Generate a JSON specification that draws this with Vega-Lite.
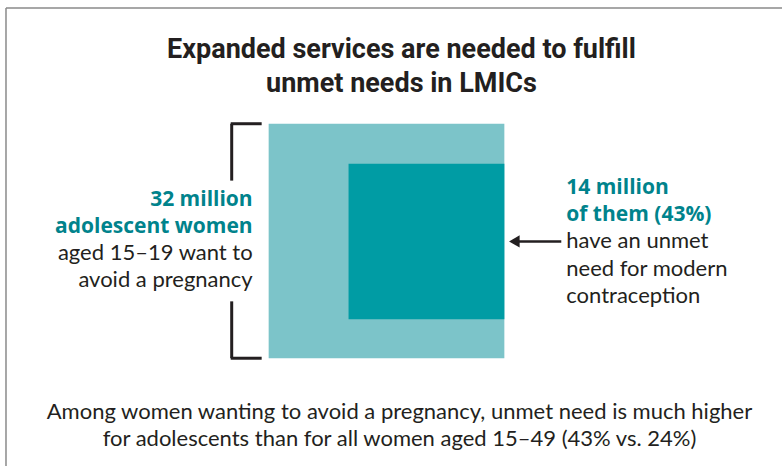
{
  "$schema": "https://vega.github.io/schema/vega-lite/v6.json",
  "autosize": {"type": "fit", "contains": "padding"},
  "width": 783,
  "height": 467,
  "padding": 0,
  "background": "white",
  "config": {"view": {"stroke": null}},
  "datasets": {
    "border": [
      {"x": 6, "y": 8, "x2": 6, "y2": 467},
      {"x": 6, "y": 8, "x2": 783, "y2": 8}
    ],
    "boxes": [
      {"group": "Adolescent women wanting to avoid a pregnancy (32 million)", "x": 269, "x2": 505, "y": 124, "y2": 359},
      {"group": "With unmet need for modern contraception (14 million)", "x": 349, "x2": 505, "y": 164, "y2": 320}
    ],
    "bracket": [
      {"x": 232, "y": 124, "x2": 232, "y2": 181},
      {"x": 232, "y": 302, "x2": 232, "y2": 359},
      {"x": 231, "y": 124, "x2": 262, "y2": 124},
      {"x": 231, "y": 359, "x2": 262, "y2": 359}
    ],
    "arrow": [{"x": 516, "x2": 562, "y": 242, "y2": 242}],
    "head": [{"x": 515, "y": 242}],
    "title": [
      {"text": "Expanded services are needed to fulfill", "x": 402, "y": 50},
      {"text": "unmet needs in LMICs", "x": 402, "y": 84}
    ],
    "leftBold": [
      {"text": "32 million", "x": 253, "y": 200},
      {"text": "adolescent women", "x": 253, "y": 227}
    ],
    "leftReg": [
      {"text": "aged 15–19 want to", "x": 253, "y": 254},
      {"text": "avoid a pregnancy", "x": 253, "y": 281}
    ],
    "rightBold": [
      {"text": "14 million", "x": 567, "y": 188},
      {"text": "of them (43%)", "x": 567, "y": 215}
    ],
    "rightReg": [
      {"text": "have an unmet", "x": 567, "y": 242},
      {"text": "need for modern", "x": 567, "y": 270},
      {"text": "contraception", "x": 567, "y": 297}
    ],
    "foot": [
      {"text": "Among women wanting to avoid a pregnancy, unmet need is much higher", "x": 400, "y": 413},
      {"text": "for adolescents than for all women aged 15–49 (43% vs. 24%)", "x": 400, "y": 440}
    ]
  },
  "layer": [
    {
      "data": {"name": "border"},
      "mark": {"type": "rule", "color": "#8a8a8a", "strokeWidth": 1.5},
      "encoding": {
        "x": {"field": "x", "type": "quantitative", "scale": {"domain": [0, 783], "nice": false, "zero": false}, "axis": null},
        "y": {"field": "y", "type": "quantitative", "scale": {"domain": [0, 467], "nice": false, "zero": false, "reverse": true}, "axis": null},
        "x2": {"field": "x2"},
        "y2": {"field": "y2"}
      }
    },
    {
      "data": {"name": "boxes"},
      "mark": {"type": "rect"},
      "encoding": {
        "x": {"field": "x", "type": "quantitative"},
        "x2": {"field": "x2"},
        "y": {"field": "y", "type": "quantitative"},
        "y2": {"field": "y2"},
        "color": {"field": "group", "type": "nominal", "scale": {"range": ["#7cc4c9", "#009ca4"]}, "legend": null}
      }
    },
    {
      "data": {"name": "bracket"},
      "mark": {"type": "rule", "color": "#231f20", "strokeWidth": 3},
      "encoding": {
        "x": {"field": "x", "type": "quantitative"},
        "y": {"field": "y", "type": "quantitative"},
        "x2": {"field": "x2"},
        "y2": {"field": "y2"}
      }
    },
    {
      "data": {"name": "arrow"},
      "mark": {"type": "rule", "color": "#231f20", "strokeWidth": 2.5},
      "encoding": {
        "x": {"field": "x", "type": "quantitative"},
        "y": {"field": "y", "type": "quantitative"},
        "x2": {"field": "x2"},
        "y2": {"field": "y2"}
      }
    },
    {
      "data": {"name": "head"},
      "mark": {"type": "point", "shape": "triangle-left", "filled": true, "color": "#231f20", "size": 150, "opacity": 1},
      "encoding": {
        "x": {"field": "x", "type": "quantitative"},
        "y": {"field": "y", "type": "quantitative"}
      }
    },
    {
      "data": {"name": "title"},
      "mark": {"type": "text", "font": "Roboto", "fontWeight": "bold", "fontSize": 27, "color": "#231f20", "align": "center", "baseline": "middle"},
      "encoding": {
        "x": {"field": "x", "type": "quantitative"},
        "y": {"field": "y", "type": "quantitative"},
        "text": {"field": "text"}
      }
    },
    {
      "data": {"name": "leftBold"},
      "mark": {"type": "text", "font": "Open Sans", "fontWeight": "bold", "fontSize": 21, "color": "#00838c", "align": "right", "baseline": "middle"},
      "encoding": {
        "x": {"field": "x", "type": "quantitative"},
        "y": {"field": "y", "type": "quantitative"},
        "text": {"field": "text"}
      }
    },
    {
      "data": {"name": "leftReg"},
      "mark": {"type": "text", "font": "Lato", "fontSize": 22, "color": "#231f20", "align": "right", "baseline": "middle"},
      "encoding": {
        "x": {"field": "x", "type": "quantitative"},
        "y": {"field": "y", "type": "quantitative"},
        "text": {"field": "text"}
      }
    },
    {
      "data": {"name": "rightBold"},
      "mark": {"type": "text", "font": "Open Sans", "fontWeight": "bold", "fontSize": 21, "color": "#00838c", "align": "left", "baseline": "middle"},
      "encoding": {
        "x": {"field": "x", "type": "quantitative"},
        "y": {"field": "y", "type": "quantitative"},
        "text": {"field": "text"}
      }
    },
    {
      "data": {"name": "rightReg"},
      "mark": {"type": "text", "font": "Lato", "fontSize": 22, "color": "#231f20", "align": "left", "baseline": "middle"},
      "encoding": {
        "x": {"field": "x", "type": "quantitative"},
        "y": {"field": "y", "type": "quantitative"},
        "text": {"field": "text"}
      }
    },
    {
      "data": {"name": "foot"},
      "mark": {"type": "text", "font": "Lato", "fontSize": 22, "color": "#231f20", "align": "center", "baseline": "middle"},
      "encoding": {
        "x": {"field": "x", "type": "quantitative"},
        "y": {"field": "y", "type": "quantitative"},
        "text": {"field": "text"}
      }
    }
  ]
}
